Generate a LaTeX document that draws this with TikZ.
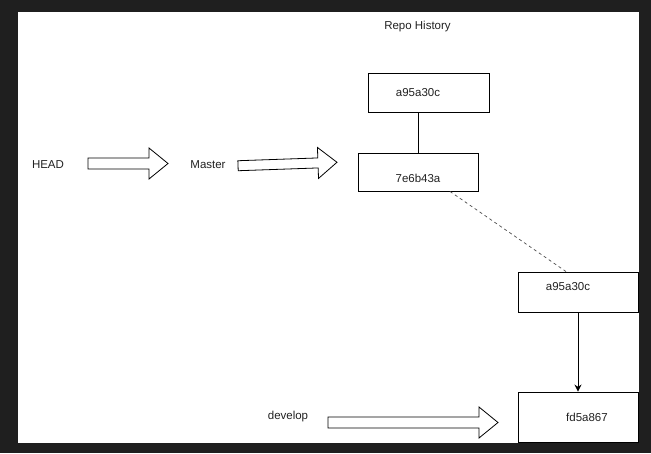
\documentclass[tikz,border=0pt]{standalone}
\usepackage{fontspec}
\setmainfont{Liberation Sans}
\usetikzlibrary{arrows.meta}
\definecolor{frame}{HTML}{1F1F1F}
\definecolor{ink}{HTML}{222222}
\tikzset{
 commit/.style={draw,line width=0.9pt,minimum width=120pt,inner sep=0pt,
  font=\fontsize{11.5}{13}\selectfont,text=ink},
 ref/.style={font=\fontsize{11.5}{13}\selectfont,text=ink,inner sep=0pt}
}
\newcommand\fatarr[4]{%
\draw[line width=0.8pt] (#1,#3-#4)--(#2-19,#3-#4)--(#2-19,#3-15.5)--(#2,#3)
 --(#2-19,#3+15.5)--(#2-19,#3+#4)--(#1,#3+#4)--cycle;}
\begin{document}
\begin{tikzpicture}[x=1pt,y=-1pt]
\fill[frame] (0,0) rectangle (651,453);
\fill[white] (18,12) rectangle (639,443);
\useasboundingbox (0,0) rectangle (651,453);
% labels
\node[ref] (title) at (417.5,27) {Repo History};
\node[ref] (head) at (48,165) {HEAD};
\node[ref] (master) at (208,165) {Master};
\node[ref] (develop) at (288,417) {develop};
% commits
\node[commit,minimum width=121pt,minimum height=39pt,
 label={[ref,xshift=-10.5pt]center:a95a30c}] (c1) at (428.5,92.5) {};
\node[commit,minimum height=38pt,
 label={[ref,yshift=-6pt]center:7e6b43a}] (c2) at (418,172) {};
\node[commit,minimum height=40pt,
 label={[ref,xshift=-10pt,yshift=5pt]center:a95a30c}] (c3) at (578,292) {};
\node[commit,minimum height=50pt,
 label={[ref,xshift=9pt]center:fd5a867}] (c4) at (578,417) {};
\draw[line width=0.9pt] (c1.south -| c2.north) -- (c2.north);
\draw[dash pattern=on 3pt off 3pt,line width=0.7pt,black!70]
 ([xshift=32pt]c2.south) -- ([xshift=-12pt]c3.north);
\draw[line width=0.9pt,-{Stealth[length=7pt,width=7pt]}] (c3.south) -- (c4.north);
% pointers
\fatarr{88}{168}{163.5}{5.5}
\begin{scope}[rotate around={2:(287.5,164)}]
\fatarr{238}{337}{164}{5}
\end{scope}
\fatarr{328}{498}{422.5}{5.5}
\end{tikzpicture}
\end{document}
